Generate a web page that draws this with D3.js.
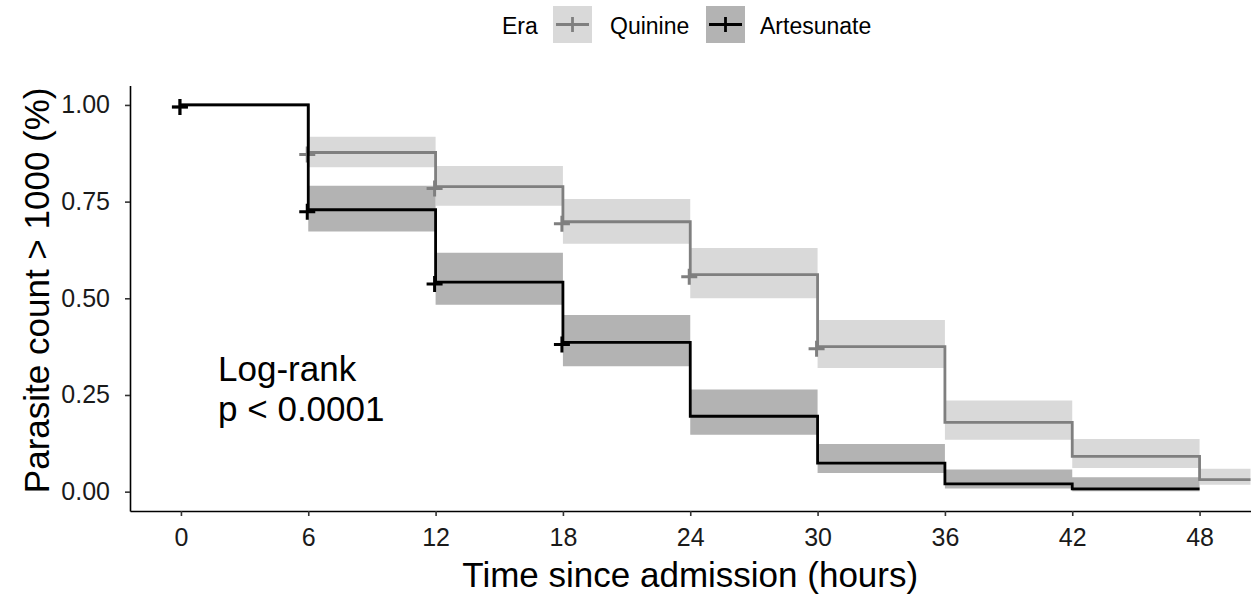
<!DOCTYPE html>
<html>
<head>
<meta charset="utf-8">
<script src="https://cdn.jsdelivr.net/npm/d3@7"></script>
<style>
  body { margin: 0; background: #fff; }
  svg text { font-family: "Liberation Sans", Arial, sans-serif; }
</style>
</head>
<body>
<div id="chart"></div>
<script>
//Data (Kaplan-Meier steps, 95% CI)
var eras = ["Quinine", "Artesunate"];

var quinineTimes = [0, 6, 12, 18, 24, 30, 36, 42, 48];
var quinineSurv  = [1.00, 0.877, 0.789, 0.698, 0.561, 0.375, 0.179, 0.091, 0.031];
var quinineUpper = [1.00, 0.918, 0.842, 0.757, 0.630, 0.444, 0.236, 0.136, 0.059];
var quinineLower = [1.00, 0.839, 0.739, 0.641, 0.500, 0.320, 0.134, 0.061, 0.018];
var quinineCensor = [0, 6, 12, 18, 24, 30];

var artesunateTimes = [0, 6, 12, 18, 24, 30, 36, 42];
var artesunateSurv  = [1.00, 0.729, 0.542, 0.386, 0.195, 0.074, 0.020, 0.007];
var artesunateUpper = [1.00, 0.791, 0.618, 0.457, 0.264, 0.123, 0.057, 0.037];
var artesunateLower = [1.00, 0.673, 0.483, 0.324, 0.147, 0.048, 0.008, 0.001];
var artesunateCensor = [0, 6, 12, 18];
var artesunateLastTime = 48;

var xTicks = [0, 6, 12, 18, 24, 30, 36, 42, 48];
var yTicks = [0, 0.25, 0.5, 0.75, 1];

//Set up chart
var svgWidth = 1252;
var svgHeight = 596;

var margin = {
    top: 85.6,
    right: 1.5,
    bottom: 85,
    left: 130
};

var width = svgWidth - margin.left - margin.right;
var height = svgHeight - margin.top - margin.bottom;

var svg = d3.select("#chart").append("svg")
    .attr("width", svgWidth)
    .attr("height", svgHeight);

var chartGroup = svg.append("g")
    .attr("transform", `translate(${margin.left}, ${margin.top})`);

//Scales (ggplot style 5% expansion)
var xMin = -2.4, xMax = 50.4;
var xScale = d3.scaleLinear().domain([xMin, xMax]).range([0, width]);
var yScale = d3.scaleLinear().domain([-0.05, 1.05]).range([height, 0]);

var styles = {
    Quinine: { line: "#7f7f7f", fill: "#d9d9d9" },
    Artesunate: { line: "#000000", fill: "#b3b3b3" }
};

//build step series: each value holds until the next time, last one until endTime
function buildSeries(times, surv, upper, lower, endTime) {
    var pts = times.map((t, i) => ({ t: t, s: surv[i], u: upper[i], l: lower[i] }));
    var last = pts[pts.length - 1];
    pts.push({ t: endTime, s: last.s, u: last.u, l: last.l });
    return pts;
}

var series = [
    { name: "Quinine", pts: buildSeries(quinineTimes, quinineSurv, quinineUpper, quinineLower, xMax),
      censor: quinineCensor, times: quinineTimes, surv: quinineSurv },
    { name: "Artesunate", pts: buildSeries(artesunateTimes, artesunateSurv, artesunateUpper, artesunateLower, artesunateLastTime),
      censor: artesunateCensor, times: artesunateTimes, surv: artesunateSurv }
];

var area = d3.area()
    .curve(d3.curveStepAfter)
    .x(d => xScale(d.t))
    .y0(d => yScale(d.l))
    .y1(d => yScale(d.u));

var line = d3.line()
    .curve(d3.curveStepAfter)
    .x(d => xScale(d.t))
    .y(d => yScale(d.s));

//ribbons first
series.forEach(function(s) {
    chartGroup.append("path")
        .datum(s.pts)
        .attr("d", area)
        .attr("fill", styles[s.name].fill)
        .attr("stroke", "none");
});

//step lines + censor marks
var plusHalf = 8;
series.forEach(function(s) {
    chartGroup.append("path")
        .datum(s.pts)
        .attr("d", line)
        .attr("fill", "none")
        .attr("stroke", styles[s.name].line)
        .attr("stroke-width", 2.8);

    var marks = s.censor.map(function(t) {
        var idx = s.times.indexOf(t);
        return { t: t, s: s.surv[idx] };
    });

    var g = chartGroup.append("g");
    g.selectAll("path")
        .data(marks)
        .enter()
        .append("path")
        .attr("d", d => {
            var cx = xScale(d.t) - 1, cy = yScale(d.s) + 2;
            return `M${cx - plusHalf},${cy}H${cx + plusHalf}M${cx},${cy - plusHalf}V${cy + plusHalf}`;
        })
        .attr("stroke", styles[s.name].line)
        .attr("stroke-width", 3)
        .attr("fill", "none");
});

//Axes
var bottomAxis = d3.axisBottom(xScale).tickValues(xTicks).tickSize(5).tickSizeOuter(0).tickPadding(12);
var leftAxis = d3.axisLeft(yScale).tickValues(yTicks).tickSize(5).tickSizeOuter(0).tickPadding(15)
    .tickFormat(d3.format(".2f"));

var xAxis = chartGroup.append("g")
    .attr("transform", `translate(0, ${height})`)
    .call(bottomAxis);

var yAxis = chartGroup.append("g")
    .call(leftAxis);

[xAxis, yAxis].forEach(function(ax) {
    ax.select(".domain").attr("stroke", "#000").attr("stroke-width", 1.6);
    ax.selectAll(".tick line").attr("stroke", "#333").attr("stroke-width", 1.6);
    ax.selectAll(".tick text")
        .attr("fill", "#1a1a1a")
        .style("font-size", "25px")
        .style("font-family", "'Liberation Sans', Arial, sans-serif");
});

//Axis titles
chartGroup.append("text")
    .attr("x", width / 2)
    .attr("y", height + 76)
    .attr("text-anchor", "middle")
    .style("font-size", "35px")
    .attr("fill", "#000")
    .text("Time since admission (hours)");

chartGroup.append("text")
    .attr("transform", `translate(${-margin.left + 49}, ${height / 2 - 8}) rotate(-90)`)
    .attr("text-anchor", "middle")
    .style("font-size", "35px")
    .attr("fill", "#000")
    .text("Parasite count > 1000 (%)");

//Log-rank annotation
var note = chartGroup.append("text")
    .attr("x", xScale(1.75))
    .attr("y", yScale(0.285))
    .style("font-size", "35px")
    .attr("fill", "#000");
note.append("tspan").attr("x", xScale(1.75)).text("Log-rank");
note.append("tspan").attr("x", xScale(1.75)).attr("dy", 40).text("p < 0.0001");

//Legend
var legend = svg.append("g").attr("transform", "translate(0, 0)");
legend.append("text")
    .attr("x", 502)
    .attr("y", 34)
    .style("font-size", "23px")
    .attr("fill", "#000")
    .text("Era");

var legendKeys = [
    { name: eras[0], box: 553, label: 610 },
    { name: eras[1], box: 706, label: 760 }
];

legendKeys.forEach(function(k) {
    var kg = legend.append("g").attr("transform", `translate(${k.box}, 6)`);
    kg.append("rect")
        .attr("width", 39)
        .attr("height", 37)
        .attr("fill", styles[k.name].fill);
    kg.append("path")
        .attr("d", "M3,18.5H36M19.5,11V26")
        .attr("stroke", styles[k.name].line)
        .attr("stroke-width", 2.8)
        .attr("fill", "none");
    legend.append("text")
        .attr("x", k.label)
        .attr("y", 34)
        .style("font-size", "23px")
        .attr("fill", "#000")
        .text(k.name);
});
</script>
</body>
</html>
